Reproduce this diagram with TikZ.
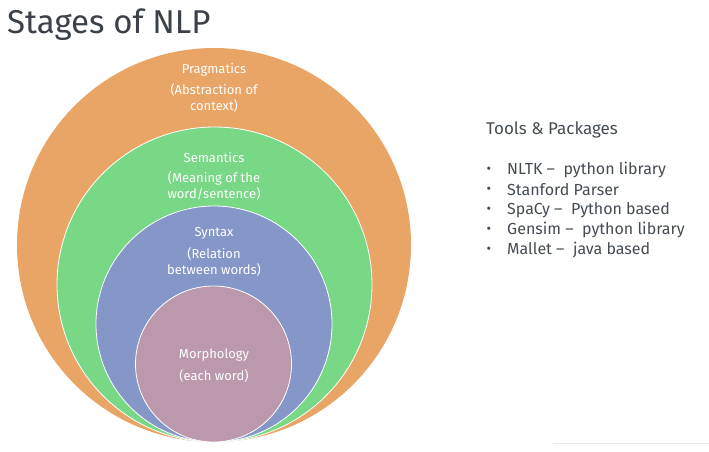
\documentclass[tikz,border=0pt]{standalone}
\usepackage{fontspec}
\setmainfont{Fira Sans}
\definecolor{titlegray}{HTML}{3B4148}
\definecolor{textgray}{HTML}{454C54}
\definecolor{pragcol}{HTML}{E8A565}
\definecolor{semcol}{HTML}{78D886}
\definecolor{syncol}{HTML}{8597C9}
\definecolor{morcol}{HTML}{BB98AB}
\tikzset{
  ring/.style={draw=white, line width=0.8pt},
  lbl/.style={text=white, font=\fontsize{13}{16}\selectfont, align=center, inner sep=0pt},
  tool/.style={text=textgray, font=\fontsize{16}{18}\selectfont, anchor=west, inner sep=0pt},
}
\begin{document}
\begin{tikzpicture}[x=1pt,y=-1pt]
\useasboundingbox (0,0) rectangle (709,451);
\fill[white] (0,0) rectangle (709,451);

% title
\node[anchor=west, inner sep=0pt, text=titlegray, font=\fontsize{33}{36}\selectfont] (title) at (7,25) {Stages of NLP};

% nested stages, all touching at the bottom
\fill[pragcol] (214,245) circle[radius=197];
\draw[ring, fill=semcol] (214.5,284.5) circle[radius=157.5];
\draw[ring, fill=syncol] (214,324) circle[radius=118];
\draw[ring, fill=morcol] (213.5,364) circle[radius=78];

\node[lbl] (prag) at (214,70) {Pragmatics};
\node[lbl] (pragd) at (214,98) {(Abstraction of\\context)};
\node[lbl] (sem) at (214,158) {Semantics};
\node[lbl] (semd) at (214,186) {(Meaning of the\\word/sentence)};
\node[lbl] (syn) at (214,233) {Syntax};
\node[lbl] (synd) at (214,262) {(Relation\\between words)};
\node[lbl] (mor) at (214,355) {Morphology};
\node[lbl] (mord) at (214,376) {(each word)};

% tools list
\node[tool, font=\fontsize{17}{18}\selectfont] (head) at (486,130) {Tools \& Packages};
\foreach \y/\t [count=\i] in {170/{NLTK –\ \ python library},190/{Stanford Parser},210/{SpaCy –\ \ Python based},230/{Gensim –\ \ python library},250/{Mallet –\ \ java based}}{
  \node[text=textgray, inner sep=0pt, font=\fontsize{14}{14}\selectfont] (b\i) at (489,\y) {•};
  \node[tool] (t\i) at (507,\y) {\t};
}

% faint rule at the foot
\draw[black!8, line width=0.6pt] (553,443) -- (709,443);
\end{tikzpicture}
\end{document}
